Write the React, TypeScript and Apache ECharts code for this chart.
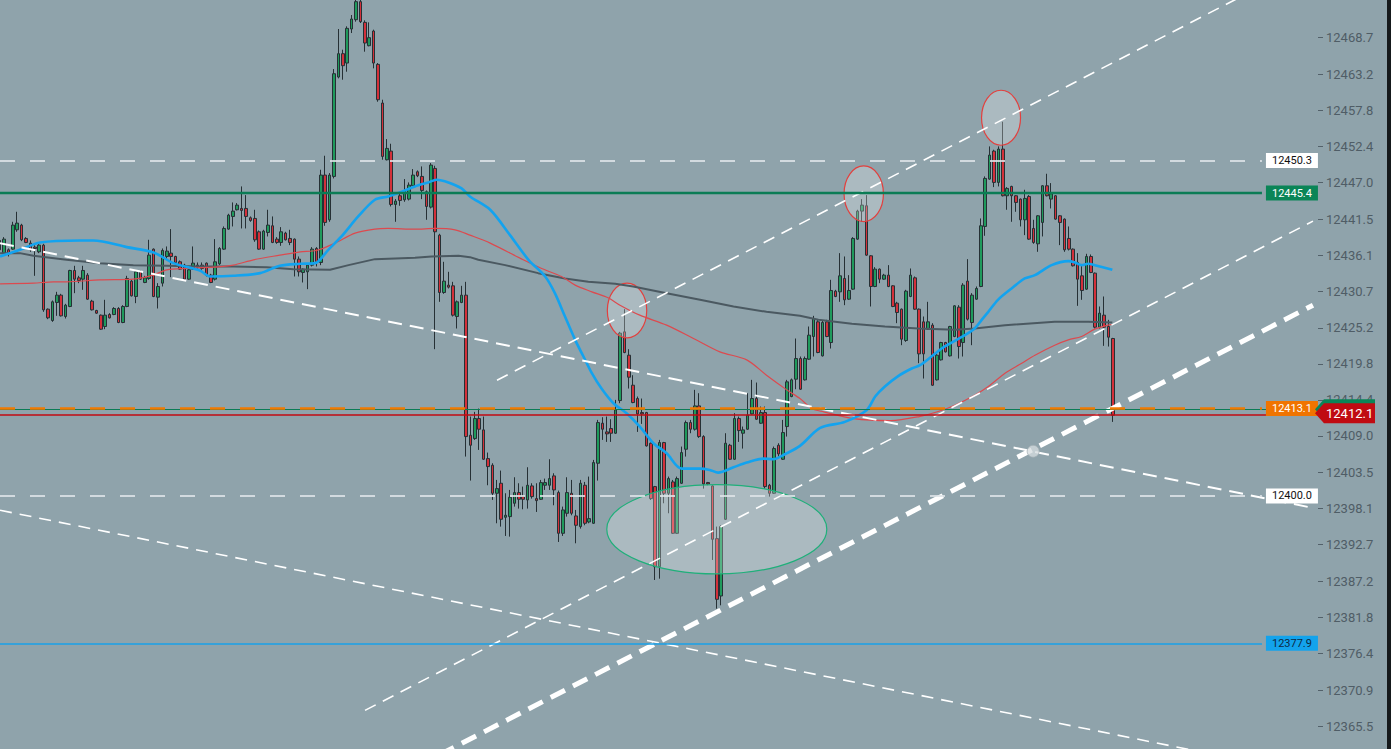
import React, { useEffect, useRef } from "react";
import * as echarts from "echarts";

// ---------- data ----------
const FIRST_INDEX = -1;
// [open, close, low, high]
const candles: number[][] = [
  [12438.3, 12436.9, 12436.4, 12438.6],
  [12436.4, 12438.5, 12436.0, 12438.8],
  [12436.9, 12436.3, 12435.9, 12437.1],
  [12437.0, 12440.6, 12436.9, 12441.1],
  [12439.9, 12440.9, 12439.6, 12442.6],
  [12440.6, 12438.4, 12438.2, 12440.8],
  [12438.6, 12438.0, 12437.9, 12438.8],
  [12437.9, 12436.9, 12436.6, 12438.3],
  [12437.3, 12437.1, 12433.0, 12437.6],
  [12436.6, 12437.6, 12436.4, 12438.0],
  [12437.6, 12427.9, 12427.6, 12437.8],
  [12428.0, 12426.7, 12426.5, 12428.1],
  [12426.3, 12429.1, 12426.1, 12429.3],
  [12429.0, 12430.1, 12427.0, 12430.6],
  [12430.1, 12427.0, 12426.9, 12430.3],
  [12426.9, 12428.6, 12426.6, 12428.8],
  [12428.4, 12433.8, 12428.3, 12433.9],
  [12433.8, 12432.5, 12430.4, 12434.5],
  [12432.7, 12432.3, 12431.9, 12433.0],
  [12432.5, 12433.8, 12430.9, 12434.5],
  [12433.1, 12429.5, 12429.4, 12433.4],
  [12429.2, 12427.9, 12427.8, 12429.4],
  [12427.8, 12427.4, 12427.3, 12427.9],
  [12427.1, 12425.0, 12424.9, 12427.2],
  [12425.4, 12427.1, 12425.0, 12429.4],
  [12427.2, 12426.7, 12426.6, 12427.4],
  [12427.2, 12428.1, 12427.1, 12428.3],
  [12428.1, 12426.0, 12425.9, 12428.3],
  [12426.0, 12428.4, 12425.9, 12428.6],
  [12428.4, 12432.6, 12428.3, 12433.0],
  [12432.2, 12430.0, 12429.9, 12432.4],
  [12429.9, 12433.6, 12428.9, 12433.8],
  [12433.6, 12432.5, 12432.4, 12433.8],
  [12432.0, 12432.7, 12431.9, 12433.0],
  [12432.6, 12436.1, 12432.4, 12438.4],
  [12437.0, 12429.9, 12429.8, 12437.1],
  [12429.8, 12431.4, 12428.1, 12431.9],
  [12431.9, 12436.8, 12431.4, 12437.1],
  [12435.9, 12436.7, 12435.4, 12437.4],
  [12436.4, 12435.9, 12432.8, 12440.0],
  [12435.9, 12435.0, 12434.9, 12436.0],
  [12435.1, 12434.0, 12433.9, 12435.3],
  [12434.6, 12432.5, 12432.4, 12434.8],
  [12432.5, 12433.9, 12432.4, 12434.0],
  [12434.0, 12434.9, 12433.9, 12437.4],
  [12434.6, 12434.3, 12434.0, 12435.0],
  [12434.6, 12434.1, 12433.9, 12435.0],
  [12434.9, 12433.1, 12432.9, 12435.0],
  [12433.1, 12432.0, 12431.9, 12433.3],
  [12432.5, 12435.1, 12432.3, 12438.5],
  [12434.8, 12437.1, 12434.6, 12437.3],
  [12437.0, 12440.1, 12436.9, 12440.4],
  [12440.0, 12442.1, 12439.9, 12442.3],
  [12441.9, 12442.7, 12440.4, 12444.0],
  [12442.9, 12443.6, 12442.8, 12443.9],
  [12443.1, 12442.8, 12440.1, 12446.4],
  [12443.1, 12441.9, 12440.1, 12445.1],
  [12441.7, 12441.3, 12441.1, 12441.9],
  [12441.6, 12438.4, 12438.1, 12442.9],
  [12439.6, 12437.0, 12436.9, 12439.8],
  [12437.0, 12439.7, 12436.9, 12439.9],
  [12439.5, 12440.6, 12438.9, 12442.9],
  [12440.5, 12438.0, 12437.9, 12441.9],
  [12438.5, 12438.0, 12437.8, 12438.8],
  [12438.0, 12439.6, 12437.5, 12440.3],
  [12439.4, 12438.4, 12438.3, 12439.6],
  [12438.6, 12438.0, 12437.6, 12439.9],
  [12438.5, 12435.5, 12432.9, 12438.6],
  [12435.5, 12433.6, 12432.9, 12435.9],
  [12433.5, 12434.0, 12432.0, 12434.1],
  [12433.6, 12434.6, 12431.0, 12434.9],
  [12434.6, 12437.0, 12434.4, 12437.3],
  [12437.1, 12435.1, 12434.4, 12437.3],
  [12435.0, 12448.1, 12434.6, 12448.9],
  [12448.1, 12441.0, 12440.5, 12451.0],
  [12441.4, 12448.1, 12441.1, 12448.4],
  [12447.9, 12463.3, 12447.6, 12464.0],
  [12462.8, 12466.3, 12462.6, 12470.0],
  [12466.3, 12464.5, 12462.4, 12466.9],
  [12464.9, 12470.1, 12463.6, 12470.4],
  [12470.0, 12471.5, 12469.4, 12472.1],
  [12471.4, 12474.1, 12471.1, 12476.0],
  [12474.1, 12471.1, 12470.9, 12476.5],
  [12471.0, 12467.9, 12466.6, 12471.3],
  [12467.5, 12468.7, 12467.4, 12471.0],
  [12469.7, 12464.9, 12464.1, 12469.9],
  [12464.7, 12459.4, 12459.1, 12464.9],
  [12458.9, 12450.9, 12450.4, 12459.4],
  [12450.4, 12452.1, 12450.3, 12453.5],
  [12451.7, 12443.7, 12443.4, 12452.8],
  [12443.7, 12444.2, 12441.1, 12444.5],
  [12445.0, 12444.3, 12443.5, 12445.6],
  [12444.4, 12445.7, 12444.1, 12447.5],
  [12444.5, 12446.6, 12444.3, 12447.0],
  [12446.5, 12448.1, 12446.3, 12449.0],
  [12448.6, 12448.0, 12447.8, 12448.8],
  [12447.9, 12445.8, 12444.5, 12449.4],
  [12445.6, 12443.4, 12441.4, 12445.8],
  [12443.3, 12449.6, 12443.1, 12449.9],
  [12449.1, 12439.6, 12422.0, 12449.5],
  [12439.1, 12430.5, 12429.1, 12439.3],
  [12430.5, 12432.2, 12430.3, 12435.1],
  [12431.6, 12431.3, 12431.1, 12433.6],
  [12431.5, 12427.1, 12426.9, 12432.1],
  [12426.9, 12429.1, 12425.1, 12429.3],
  [12429.0, 12430.1, 12428.9, 12431.5],
  [12430.1, 12408.9, 12405.9, 12432.1],
  [12409.1, 12407.6, 12402.3, 12411.9],
  [12408.6, 12411.6, 12408.4, 12412.6],
  [12411.6, 12410.0, 12406.9, 12413.1],
  [12409.9, 12405.5, 12405.4, 12411.9],
  [12405.6, 12404.4, 12401.6, 12406.5],
  [12404.6, 12400.4, 12399.4, 12404.9],
  [12400.4, 12401.1, 12395.9, 12402.4],
  [12401.9, 12396.5, 12395.4, 12403.8],
  [12396.8, 12397.1, 12394.0, 12400.4],
  [12396.9, 12399.8, 12393.9, 12400.9],
  [12398.9, 12400.5, 12398.4, 12402.8],
  [12400.5, 12399.5, 12398.1, 12401.9],
  [12399.9, 12399.5, 12398.0, 12401.4],
  [12399.4, 12401.6, 12398.1, 12404.3],
  [12401.5, 12399.9, 12399.6, 12401.9],
  [12399.6, 12399.3, 12397.6, 12401.9],
  [12399.5, 12402.0, 12399.4, 12402.4],
  [12401.6, 12402.0, 12400.9, 12402.6],
  [12401.6, 12402.6, 12400.9, 12405.5],
  [12403.0, 12400.9, 12398.6, 12403.4],
  [12400.5, 12394.4, 12393.1, 12400.8],
  [12394.4, 12397.9, 12394.0, 12398.4],
  [12397.4, 12400.5, 12396.9, 12402.8],
  [12400.4, 12397.4, 12397.1, 12402.4],
  [12397.0, 12395.6, 12392.9, 12397.9],
  [12395.4, 12401.9, 12395.1, 12402.4],
  [12401.6, 12395.9, 12395.6, 12402.1],
  [12396.1, 12396.6, 12395.9, 12402.9],
  [12395.9, 12405.0, 12395.8, 12405.4],
  [12404.9, 12411.0, 12402.3, 12411.4],
  [12410.9, 12410.0, 12408.4, 12411.8],
  [12409.6, 12409.3, 12408.1, 12411.9],
  [12410.1, 12409.4, 12408.1, 12411.5],
  [12409.4, 12412.9, 12409.3, 12414.4],
  [12414.3, 12424.4, 12413.9, 12424.6],
  [12424.6, 12421.5, 12421.4, 12428.0],
  [12421.1, 12417.8, 12416.1, 12422.0],
  [12416.6, 12414.0, 12413.9, 12418.1],
  [12414.6, 12412.3, 12409.6, 12414.9],
  [12412.5, 12412.3, 12410.8, 12414.6],
  [12412.5, 12407.5, 12407.4, 12412.6],
  [12407.9, 12399.6, 12399.4, 12408.0],
  [12401.4, 12389.4, 12387.4, 12401.5],
  [12389.4, 12408.0, 12387.6, 12408.4],
  [12408.0, 12400.4, 12398.9, 12408.1],
  [12400.4, 12402.6, 12397.4, 12402.9],
  [12402.1, 12394.4, 12394.3, 12402.4],
  [12394.4, 12402.6, 12394.3, 12402.9],
  [12401.9, 12406.5, 12401.8, 12407.4],
  [12407.0, 12411.0, 12405.9, 12411.3],
  [12411.0, 12410.0, 12409.4, 12411.4],
  [12410.0, 12413.5, 12409.8, 12415.9],
  [12413.5, 12408.9, 12408.7, 12415.4],
  [12408.9, 12401.8, 12401.1, 12409.1],
  [12402.0, 12401.8, 12401.6, 12402.1],
  [12401.5, 12393.5, 12390.4, 12401.6],
  [12393.6, 12384.5, 12383.1, 12395.4],
  [12385.0, 12395.4, 12383.6, 12395.6],
  [12396.5, 12407.9, 12396.4, 12409.4],
  [12407.6, 12405.5, 12405.4, 12407.8],
  [12405.5, 12411.6, 12405.4, 12412.4],
  [12411.6, 12409.8, 12408.1, 12411.9],
  [12409.4, 12409.9, 12407.1, 12410.4],
  [12410.0, 12412.1, 12409.9, 12415.4],
  [12412.3, 12414.6, 12412.2, 12417.4],
  [12414.6, 12411.5, 12411.4, 12417.0],
  [12410.9, 12412.5, 12410.8, 12413.4],
  [12412.5, 12401.4, 12401.1, 12413.4],
  [12401.6, 12400.4, 12399.9, 12401.8],
  [12400.4, 12407.1, 12400.3, 12407.4],
  [12407.6, 12406.3, 12405.9, 12407.9],
  [12405.5, 12409.5, 12405.4, 12411.4],
  [12410.4, 12417.1, 12408.9, 12417.4],
  [12414.9, 12417.4, 12414.8, 12417.6],
  [12417.5, 12420.6, 12416.0, 12423.6],
  [12420.6, 12416.0, 12415.9, 12420.9],
  [12417.4, 12420.6, 12417.3, 12420.9],
  [12420.5, 12424.1, 12420.4, 12425.4],
  [12423.9, 12426.6, 12420.9, 12427.0],
  [12426.1, 12421.5, 12421.4, 12426.4],
  [12421.0, 12426.0, 12420.9, 12426.3],
  [12426.1, 12423.9, 12423.8, 12426.4],
  [12423.0, 12430.8, 12422.1, 12432.4],
  [12430.7, 12429.9, 12429.8, 12430.9],
  [12430.6, 12433.0, 12429.1, 12436.4],
  [12432.6, 12429.4, 12428.6, 12435.9],
  [12429.5, 12430.8, 12429.4, 12433.1],
  [12431.0, 12438.6, 12430.9, 12438.8],
  [12438.5, 12442.7, 12438.4, 12442.9],
  [12442.7, 12443.6, 12441.1, 12444.5],
  [12443.5, 12436.1, 12436.0, 12445.1],
  [12436.0, 12431.4, 12428.4, 12436.1],
  [12431.4, 12434.0, 12431.3, 12434.3],
  [12434.0, 12432.5, 12431.9, 12434.1],
  [12432.5, 12433.1, 12432.4, 12433.3],
  [12433.1, 12431.4, 12431.3, 12434.6],
  [12431.5, 12428.4, 12428.3, 12431.6],
  [12428.9, 12427.5, 12425.9, 12429.1],
  [12428.0, 12423.5, 12422.6, 12428.1],
  [12423.3, 12430.7, 12423.1, 12430.9],
  [12429.9, 12433.1, 12429.8, 12434.1],
  [12432.7, 12428.0, 12427.9, 12432.9],
  [12428.0, 12421.3, 12419.9, 12428.1],
  [12426.1, 12421.3, 12417.6, 12426.9],
  [12425.0, 12426.1, 12424.9, 12429.1],
  [12425.6, 12416.6, 12416.5, 12425.9],
  [12417.4, 12421.1, 12417.3, 12421.4],
  [12420.4, 12423.0, 12420.3, 12423.1],
  [12423.0, 12421.6, 12421.5, 12423.1],
  [12421.0, 12425.4, 12420.9, 12425.5],
  [12423.9, 12428.5, 12423.8, 12428.6],
  [12428.3, 12422.4, 12420.6, 12428.6],
  [12423.0, 12431.6, 12420.9, 12431.9],
  [12432.2, 12426.5, 12426.3, 12435.5],
  [12426.0, 12430.1, 12422.6, 12430.4],
  [12429.5, 12431.1, 12429.4, 12431.4],
  [12431.4, 12440.5, 12431.3, 12441.6],
  [12440.4, 12447.6, 12439.0, 12447.9],
  [12447.5, 12451.1, 12447.4, 12452.4],
  [12451.7, 12447.0, 12446.3, 12451.9],
  [12447.0, 12452.0, 12446.4, 12452.4],
  [12452.0, 12445.0, 12444.9, 12456.1],
  [12445.0, 12446.1, 12442.9, 12446.3],
  [12446.4, 12445.0, 12441.1, 12446.5],
  [12445.0, 12444.0, 12442.6, 12445.1],
  [12444.5, 12441.4, 12440.4, 12444.6],
  [12441.4, 12444.6, 12439.1, 12445.9],
  [12444.9, 12438.5, 12438.4, 12445.1],
  [12440.1, 12438.0, 12437.8, 12441.4],
  [12437.8, 12442.0, 12436.6, 12442.1],
  [12441.0, 12446.5, 12438.9, 12446.6],
  [12446.5, 12445.0, 12444.9, 12448.3],
  [12444.5, 12445.3, 12443.1, 12446.9],
  [12445.0, 12441.5, 12441.4, 12445.1],
  [12442.0, 12441.0, 12437.6, 12442.1],
  [12441.5, 12436.9, 12436.6, 12441.6],
  [12438.6, 12437.0, 12436.8, 12440.4],
  [12437.0, 12434.5, 12434.4, 12437.1],
  [12435.0, 12432.5, 12428.5, 12436.4],
  [12433.0, 12430.8, 12429.4, 12434.6],
  [12431.0, 12435.9, 12430.9, 12436.3],
  [12435.9, 12433.5, 12433.4, 12436.2],
  [12433.4, 12425.3, 12425.1, 12433.5],
  [12425.3, 12427.4, 12425.1, 12428.4],
  [12427.1, 12425.3, 12422.5, 12429.9],
  [12425.4, 12423.8, 12422.4, 12426.4],
  [12423.6, 12412.1, 12411.1, 12423.7],
];

// moving averages: [bar index, price]
const fastMA: number[][] = [
  [-0.9, 12435.9], [3.6, 12436.9], [8.2, 12438.0], [17.3, 12438.3], [20.3, 12438.3], [27.9, 12437.3],
  [34.0, 12436.5], [38.5, 12434.9], [44.5, 12433.8], [46.8, 12432.9], [52.1, 12433.0], [58.2, 12433.4],
  [62.7, 12434.5], [67.3, 12434.8], [70.7, 12434.9], [73.7, 12436.9], [76.7, 12438.9], [80.5, 12441.9],
  [84.3, 12444.4], [87.3, 12444.9], [90.4, 12445.6], [93.4, 12446.4], [96.4, 12447.0], [98.3, 12447.4],
  [101.0, 12447.0], [104.0, 12446.1], [105.9, 12444.9], [110.5, 12442.9], [115.0, 12439.1], [119.2, 12435.4],
  [123.0, 12432.9], [125.2, 12430.4], [127.5, 12426.9], [129.8, 12423.4], [131.7, 12420.9], [133.6, 12418.4],
  [135.8, 12416.1], [138.5, 12413.9], [141.5, 12412.4], [144.5, 12410.4], [147.6, 12407.9], [150.6, 12406.4],
  [154.0, 12404.1], [158.2, 12404.1], [160.4, 12403.9], [162.3, 12403.5], [165.8, 12404.3], [168.8, 12405.0],
  [172.6, 12405.6], [174.8, 12405.5], [177.9, 12406.4], [180.9, 12407.5], [185.5, 12410.2], [191.1, 12411.1],
  [196.1, 12412.9], [198.0, 12414.9], [200.2, 12416.4], [203.3, 12418.0], [206.3, 12419.1], [208.2, 12419.6],
  [210.8, 12420.9], [213.1, 12422.1], [215.4, 12423.0], [218.4, 12424.1], [220.6, 12425.1], [222.2, 12426.4],
  [223.7, 12427.6], [225.9, 12429.4], [229.0, 12431.1], [232.0, 12432.6], [234.3, 12433.1], [238.1, 12434.6],
  [241.9, 12435.2], [243.4, 12435.0], [244.9, 12434.6], [246.4, 12434.8], [247.9, 12434.6], [251.9, 12433.9],
];
const midMA: number[][] = [
  [-0.9, 12431.8], [6.7, 12431.9], [11.2, 12432.1], [14.2, 12432.1], [21.8, 12432.4], [29.4, 12432.5],
  [33.9, 12433.1], [37.0, 12433.9], [41.5, 12434.1], [47.6, 12434.3], [52.1, 12434.6], [56.7, 12435.4],
  [62.7, 12436.1], [67.3, 12436.6], [71.0, 12436.8], [75.2, 12437.9], [79.8, 12439.4], [84.3, 12440.0],
  [87.3, 12440.1], [93.4, 12440.0], [98.0, 12440.1], [102.5, 12439.9], [105.9, 12439.1], [110.5, 12437.9],
  [118.0, 12435.4], [122.2, 12434.1], [126.7, 12432.9], [129.8, 12431.6], [133.6, 12430.6], [137.3, 12429.7],
  [140.0, 12428.6], [144.5, 12427.1], [150.6, 12425.6], [156.7, 12423.6], [162.7, 12421.6], [168.8, 12420.4],
  [173.3, 12418.1], [177.9, 12415.9], [180.9, 12414.6], [183.6, 12413.1], [186.3, 12412.6], [193.0, 12411.6],
  [201.5, 12411.3], [208.0, 12411.9], [212.5, 12412.7], [216.1, 12413.6], [220.6, 12415.1], [223.7, 12416.4],
  [227.5, 12418.4], [231.3, 12419.9], [234.3, 12421.1], [238.8, 12422.6], [241.9, 12423.4], [244.9, 12423.9],
  [247.9, 12425.0], [250.9, 12425.6], [251.9, 12425.7],
];
const slowMA: number[][] = [
  [-0.9, 12436.4], [3.6, 12436.4], [6.7, 12436.0], [14.2, 12435.4], [21.8, 12434.9], [29.4, 12434.6],
  [37.0, 12434.5], [44.5, 12434.4], [52.1, 12434.4], [59.7, 12434.3], [65.8, 12434.0], [74.1, 12433.9],
  [78.3, 12434.6], [84.3, 12435.5], [88.9, 12435.6], [93.4, 12435.7], [97.2, 12435.9], [103.3, 12436.0],
  [105.9, 12435.8], [107.8, 12435.4], [113.9, 12434.6], [121.4, 12433.4], [127.5, 12432.6], [132.8, 12432.1],
  [138.9, 12431.8], [143.0, 12431.4], [150.6, 12430.4], [158.2, 12429.4], [165.8, 12428.4], [173.3, 12427.6],
  [180.9, 12427.0], [185.1, 12426.4], [192.7, 12425.8], [200.2, 12425.4], [207.8, 12425.1], [216.1, 12424.9],
  [220.6, 12425.1], [227.5, 12425.6], [238.8, 12426.1], [246.4, 12426.1], [251.9, 12426.0],
];

// drawn trend lines: [bar index, price]
const trendDescUpper = [[-0.909, 12437.9], [297.5, 12398.2]];
const trendDescLower = [[-0.909, 12397.85], [298.64, 12358.1]];
const trendAscUpper = [[112.05, 12417.35], [298.64, 12480.8]];
const trendAscLower = [[82.05, 12367.85], [297.5, 12441.2]];
const trendAscThick = [[99.0, 12361.2], [297.5, 12428.6]];
const anchorPoint = [[233.9, 12406.7]];

// highlighted zones: centres [bar index, price]
const zoneCentres = [[141.6, 12427.8], [195.4, 12445.3], [226.6, 12456.7], [162.0, 12395.0]];

// horizontal levels
const levelResistance = 12450.3;
const levelGreen = 12445.4;
const levelOrange = 12413.1;
const levelBid = 12413.0;
const lastPrice = 12412.1;
const levelSupport = 12400.0;
const levelBlue = 12377.9;

const yTicks = [
  12365.5, 12370.9, 12376.4, 12381.8, 12387.2, 12392.7, 12398.1, 12403.5, 12409.0, 12414.4,
  12419.8, 12425.2, 12430.7, 12436.1, 12441.5, 12447.0, 12452.4, 12457.8, 12463.2, 12468.7,
];
const priceTags = [levelBid, lastPrice];

// ---------- layout / style ----------
const X_MIN = -0.909;
const X_MAX = 298.64;
const X_LINE_END = 285.9;
const Y_MIN = 12362.06;
const Y_MAX = 12474.35;
const BG = "#8fa3ab";

const zoneShapes = [
  { rx: 19.7, ry: 27.4, stroke: "#e2403e" },
  { rx: 19.7, ry: 27.8, stroke: "#e2403e" },
  { rx: 19.5, ry: 27.5, stroke: "#e2403e" },
  { rx: 110, ry: 44.6, stroke: "#1fb07a" },
];
const tagStyles = [
  { color: "#0a8557", text: "#ffffff", dy: 0 },
  { color: "#c00b12", text: "#ffffff", dy: -2 },
];

function levelSeries(value: number, xEnd: number, lineStyle: any, label: any, z = 5) {
  return {
    type: "line",
    data: [],
    silent: true,
    z,
    markLine: {
      silent: true,
      symbol: "none",
      z,
      animation: false,
      lineStyle,
      label: label
        ? {
            show: true,
            position: "end",
            distance: 4,
            formatter: value.toFixed(1),
            fontFamily: "Roboto",
            fontSize: 11,
            lineHeight: 13,
            padding: [1, 6, 1, 6],
            ...label,
          }
        : { show: false },
      emphasis: { disabled: true },
      data: [[{ coord: [X_MIN, value] }, { coord: [xEnd, value] }]],
    },
  };
}

function trendSeries(data: number[][], width: number, dash: number[], z = 4) {
  return {
    type: "line",
    data,
    symbol: "none",
    silent: true,
    z,
    clip: true,
    lineStyle: { color: "#ffffff", width, type: dash },
  };
}

function maSeries(data: number[][], color: string, width: number, smooth: number | boolean) {
  return {
    type: "line",
    data,
    symbol: "none",
    silent: true,
    smooth,
    z: 3,
    lineStyle: { color, width },
  };
}

export default function App() {
  const ref = useRef<HTMLDivElement>(null);
  useEffect(() => {
    if (!ref.current) return;
    const chart = echarts.init(ref.current, null, { renderer: "svg" });
    const candleData = candles.map((c, k) => [k + FIRST_INDEX, c[0], c[1], c[2], c[3]]);
    const option: any = {
      animation: false,
      backgroundColor: BG,
      grid: { left: 0, right: 73, top: 0, bottom: 0, containLabel: false },
      xAxis: { type: "value", min: X_MIN, max: X_MAX, show: false },
      yAxis: {
        type: "value",
        position: "right",
        min: Y_MIN,
        max: Y_MAX,
        scale: true,
        splitLine: { show: false },
        axisLine: { show: false, onZero: false },
        axisTick: { show: true, length: 5, customValues: yTicks, lineStyle: { color: "#53616a", width: 1 } },
        axisLabel: {
          customValues: yTicks,
          formatter: (v: number) => v.toFixed(1),
          color: "#4f5d66",
          fontFamily: "Roboto",
          fontSize: 13,
          margin: 8,
        },
      },
      graphic: [
        { type: "rect", right: 0, top: 0, shape: { width: 4, height: 749 }, style: { fill: "#15191b" }, z: 100 },
      ],
      series: [
        {
          type: "candlestick",
          data: candleData,
          barWidth: 3,
          z: 2,
          silent: true,
          itemStyle: {
            color: "#1f9a5c",
            color0: "#d3303a",
            borderColor: "#263035",
            borderColor0: "#263035",
            borderWidth: 1,
          },
        },
        maSeries(slowMA, "#4b5961", 2, false),
        maSeries(midMA, "#dc4a4f", 1.2, 0.3),
        maSeries(fastMA, "#13a3ef", 2.6, 0.3),
        {
          type: "custom",
          data: zoneCentres,
          z: 3,
          silent: true,
          renderItem: (params: any, api: any) => {
            const c = api.coord([api.value(0), api.value(1)]);
            const s = zoneShapes[params.dataIndex];
            return {
              type: "ellipse",
              shape: { cx: c[0], cy: c[1], rx: s.rx, ry: s.ry },
              style: { fill: "rgba(255,255,255,0.25)", stroke: s.stroke, lineWidth: 1.2 },
            };
          },
        },
        trendSeries(trendDescUpper, 2, [14, 8]),
        trendSeries(trendDescLower, 1.6, [12, 8]),
        trendSeries(trendAscUpper, 1.6, [12, 8]),
        trendSeries(trendAscLower, 1.6, [12, 8]),
        trendSeries(trendAscThick, 5, [16, 9]),
        {
          type: "scatter",
          data: anchorPoint,
          symbolSize: 12,
          z: 6,
          silent: true,
          itemStyle: { color: "rgba(214,221,224,0.95)", borderColor: "rgba(160,172,178,0.9)", borderWidth: 1 },
        },
        levelSeries(levelResistance, X_LINE_END, { color: "rgba(222,228,231,0.85)", width: 2, type: [15, 15] }, {
          color: "#111111",
          backgroundColor: "#ffffff",
        }),
        levelSeries(levelGreen, X_LINE_END, { color: "#0b7c55", width: 2.4, type: "solid" }, {
          color: "#ffffff",
          backgroundColor: "#0a8557",
        }),
        levelSeries(levelBid, X_MAX, { color: "#0b7c55", width: 1, type: "solid" }, null),
        levelSeries(lastPrice, X_MAX, { color: "#c20a12", width: 1.5, type: "solid" }, null),
        levelSeries(levelOrange, X_LINE_END, { color: "#f27a00", width: 2.6, type: [15, 15] }, {
          color: "#ffffff",
          backgroundColor: "#f07400",
        }, 6),
        levelSeries(levelSupport, X_LINE_END, { color: "rgba(222,228,231,0.85)", width: 2, type: [15, 15] }, {
          color: "#111111",
          backgroundColor: "#ffffff",
        }, 6),
        levelSeries(levelBlue, X_LINE_END, { color: "#18a0e8", width: 1.5, type: "solid" }, {
          color: "#0d2a45",
          backgroundColor: "#13a3ec",
        }),
        {
          type: "custom",
          data: priceTags.map((v) => [0, v]),
          z: 20,
          silent: true,
          clip: false,
          renderItem: (params: any, api: any) => {
            const k = params.dataIndex;
            const st = tagStyles[k];
            const y = api.coord([0, api.value(1)])[1] + st.dy;
            const cs = params.coordSys;
            const x0 = cs.x + cs.width;
            const h = 20;
            const w = 57;
            return {
              type: "group",
              children: [
                {
                  type: "polygon",
                  shape: {
                    points: [
                      [x0 - 3, y],
                      [x0 + 6, y - h / 2],
                      [x0 + w, y - h / 2],
                      [x0 + w, y + h / 2],
                      [x0 + 6, y + h / 2],
                    ],
                  },
                  style: { fill: st.color },
                },
                {
                  type: "text",
                  style: {
                    text: priceTags[k].toFixed(1),
                    x: x0 + 8,
                    y,
                    align: "left",
                    verticalAlign: "middle",
                    fill: st.text,
                    font: "13px Roboto",
                  },
                },
              ],
            };
          },
        },
      ],
    };
    chart.setOption(option);
    return () => chart.dispose();
  }, []);
  return (
    <div
      ref={ref}
      style={{ position: "fixed", left: 0, top: 0, width: 1391, height: 749, background: BG }}
    />
  );
}
